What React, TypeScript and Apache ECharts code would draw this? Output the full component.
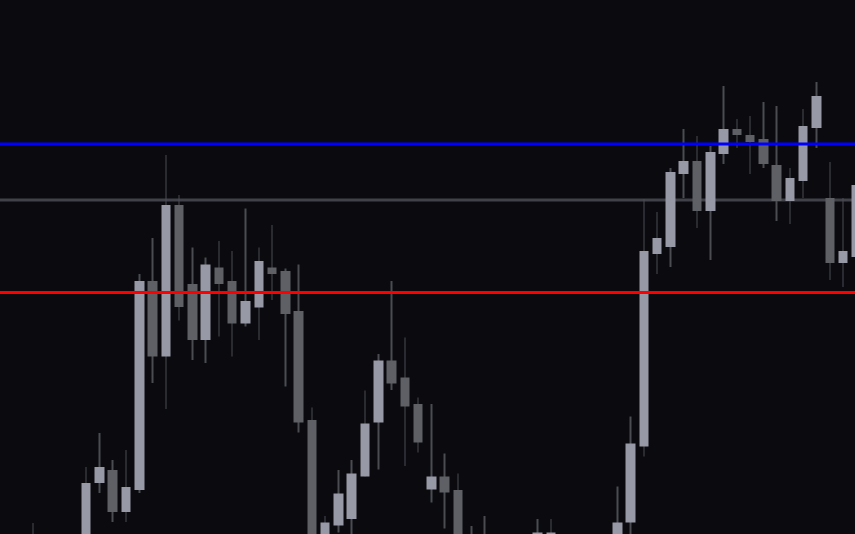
import React, { useEffect, useRef } from "react";
import * as echarts from "echarts";

// Candles: [open, close, low, high]
const candles: number[][] = [
  [95.8, 97.8, 93.8, 102.2],
  [97.0, 94.5, 92.0, 99.0],
  [94.5, 96.5, 91.5, 98.5],
  [96.5, 98.8, 95.0, 99.6],
  [97.5, 110.2, 96.0, 113.4],
  [110.2, 113.4, 108.2, 120.2],
  [112.8, 104.4, 102.4, 114.8],
  [104.4, 109.4, 102.4, 116.8],
  [108.8, 150.6, 108.2, 152.0],
  [150.6, 135.5, 130.2, 159.2],
  [135.5, 165.8, 125.0, 175.8],
  [165.8, 145.4, 142.7, 167.8],
  [150.0, 138.8, 134.8, 157.3],
  [138.8, 153.9, 134.2, 155.3],
  [153.3, 150.0, 139.5, 158.6],
  [150.6, 142.1, 135.5, 156.6],
  [142.1, 146.6, 141.5, 165.1],
  [145.3, 154.6, 138.8, 157.3],
  [153.3, 152.0, 146.8, 161.8],
  [152.6, 144.0, 129.5, 153.1],
  [144.6, 122.3, 120.3, 153.9],
  [122.8, 94.8, 89.0, 125.3],
  [95.5, 102.3, 93.0, 103.6],
  [101.7, 108.1, 100.3, 112.8],
  [103.0, 112.1, 99.2, 114.8],
  [111.5, 122.1, 111.5, 128.7],
  [122.3, 134.7, 112.9, 136.0],
  [134.7, 130.1, 128.8, 150.6],
  [131.3, 125.5, 113.6, 139.3],
  [126.0, 118.3, 116.3, 127.3],
  [108.9, 111.5, 106.3, 126.0],
  [111.5, 108.3, 101.1, 116.1],
  [108.8, 92.0, 90.0, 112.1],
  [93.0, 96.5, 90.5, 101.6],
  [96.5, 94.0, 91.0, 103.6],
  [94.0, 92.5, 89.5, 98.0],
  [92.5, 95.0, 91.0, 97.5],
  [95.0, 97.5, 93.5, 99.0],
  [97.5, 100.3, 96.0, 103.0],
  [98.0, 100.3, 96.5, 103.0],
  [99.0, 96.5, 94.0, 99.6],
  [96.5, 94.0, 92.0, 98.5],
  [94.0, 96.0, 91.5, 97.5],
  [96.0, 98.5, 95.0, 99.5],
  [97.0, 102.3, 95.5, 109.5],
  [102.3, 118.1, 98.5, 123.5],
  [117.5, 156.6, 115.5, 167.0],
  [156.0, 159.2, 152.0, 164.4],
  [157.4, 172.4, 153.4, 173.2],
  [172.0, 174.6, 167.2, 181.0],
  [174.6, 164.6, 161.2, 179.6],
  [164.6, 176.4, 154.8, 177.6],
  [176.0, 181.0, 174.0, 189.6],
  [181.0, 179.8, 177.2, 183.0],
  [179.8, 178.4, 172.0, 183.6],
  [179.0, 174.0, 173.2, 186.4],
  [173.8, 166.6, 162.6, 185.6],
  [166.6, 171.2, 162.0, 173.2],
  [170.6, 181.6, 167.2, 185.0],
  [181.2, 187.6, 177.2, 190.4],
  [167.2, 154.2, 150.8, 174.4],
  [154.2, 156.6, 149.4, 167.2],
  [155.4, 169.8, 150.2, 185.8],
];

const categories: string[] = candles.map((_, i) => String(i + 1));

const levelBlue = 178.0;
const levelGrey = 166.8;
const levelRed = 148.3;

const yMin = 100;
const yMax = 206.8;

const BG = "#0a0a0f";
const UP = "#9899a6";
const DOWN = "#5f6066";
const WICK = "#4b4c52";

export default function App() {
  const ref = useRef<HTMLDivElement>(null);

  useEffect(() => {
    if (!ref.current) return;
    document.body.style.margin = "0";
    document.body.style.background = BG;
    const chart = echarts.init(ref.current, null, { renderer: "svg" });

    const wickData = candles.map((c) => [c[2], c[3], c[2], c[3]]);
    const bodyData = candles.map((c) => [
      c[0],
      c[1],
      Math.min(c[0], c[1]),
      Math.max(c[0], c[1]),
    ]);

    const levelSeries = (value: number, color: string, z: number) => ({
      type: "line",
      xAxisIndex: 1,
      yAxisIndex: 1,
      data: [
        [0, value],
        [1, value],
      ],
      symbol: "none",
      silent: true,
      z,
      lineStyle: { color, width: 3, type: "solid" },
    });

    chart.setOption({
      animation: false,
      backgroundColor: BG,
      grid: [
        { left: 26.4, right: 0, top: 0, bottom: 0, containLabel: false },
        { left: 0, right: 0, top: 0, bottom: 0, containLabel: false },
      ],
      xAxis: [
        {
          type: "category",
          data: categories,
          show: false,
          boundaryGap: true,
          gridIndex: 0,
        },
        { type: "value", min: 0, max: 1, show: false, gridIndex: 1 },
      ],
      yAxis: [
        {
          type: "value",
          min: yMin,
          max: yMax,
          show: false,
          splitLine: { show: false },
          gridIndex: 0,
        },
        {
          type: "value",
          min: yMin,
          max: yMax,
          show: false,
          splitLine: { show: false },
          gridIndex: 1,
        },
      ],
      series: [
        levelSeries(levelGrey, "#41414a", 1),
        {
          type: "candlestick",
          data: wickData,
          z: 2,
          barWidth: 2,
          clip: true,
          itemStyle: {
            color: WICK,
            color0: WICK,
            borderColor: WICK,
            borderColor0: WICK,
            borderWidth: 0,
          },
        },
        {
          type: "candlestick",
          data: bodyData,
          z: 3,
          barWidth: 10,
          clip: true,
          itemStyle: {
            color: UP,
            color0: DOWN,
            borderColor: UP,
            borderColor0: DOWN,
            borderWidth: 0,
          },
        },
        levelSeries(levelBlue, "#0000ff", 4),
        levelSeries(levelRed, "#ff0000", 4),
      ],
    });

    return () => {
      chart.dispose();
    };
  }, []);

  return (
    <div
      style={{
        position: "fixed",
        left: 0,
        top: 0,
        width: 855,
        height: 534,
        overflow: "hidden",
        background: BG,
      }}
    >
      <div ref={ref} style={{ width: 863, height: 534 }} />
    </div>
  );
}
